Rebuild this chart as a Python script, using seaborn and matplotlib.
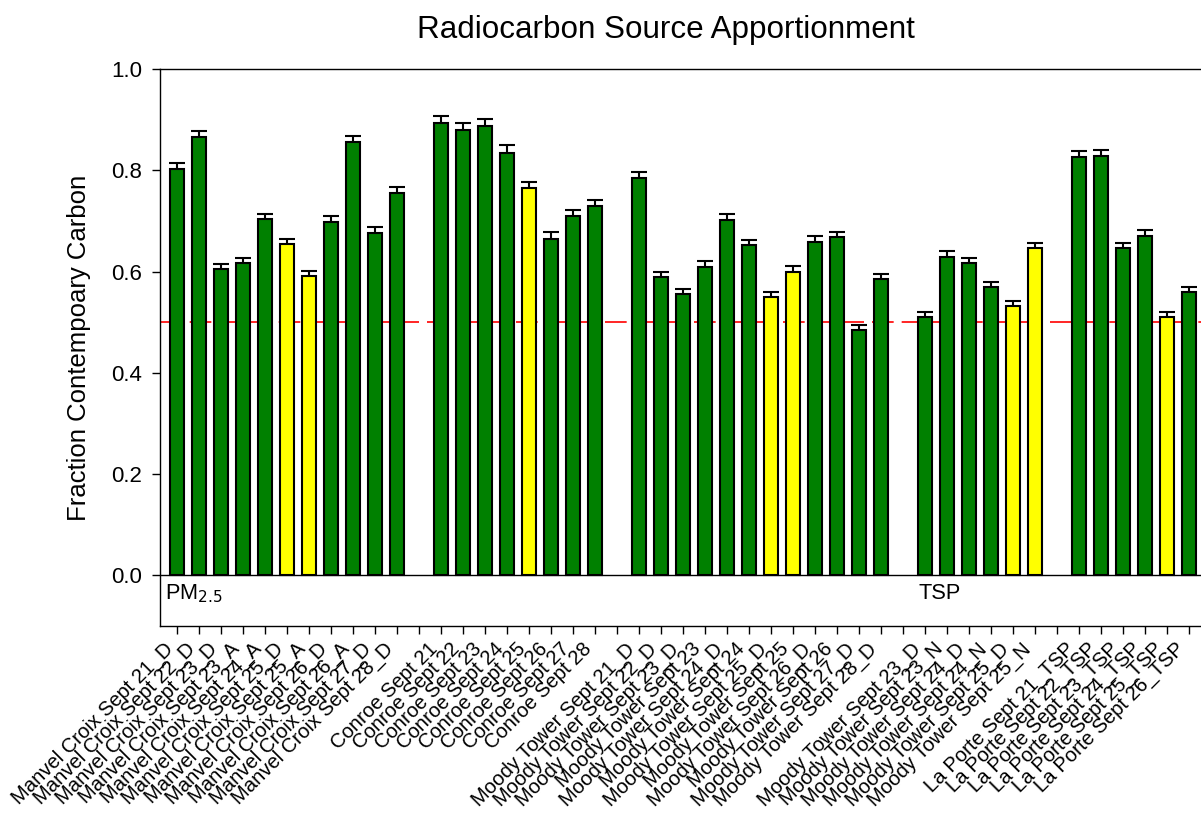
import numpy as np
import pandas as pd
import matplotlib
matplotlib.use('Agg')
import matplotlib.pyplot as plt
import seaborn as sns

# sample groups (a blank slot is left between groups)
manvel = ["Manvel Croix Sept 21_D", "Manvel Croix Sept 22_D", "Manvel Croix Sept 23_D",
          "Manvel Croix Sept 23_A", "Manvel Croix Sept 24_A", "Manvel Croix Sept 25_D",
          "Manvel Croix Sept 25_A", "Manvel Croix Sept 26_D", "Manvel Croix Sept 26_A",
          "Manvel Croix Sept 27_D", "Manvel Croix Sept 28_D"]
manvel_fc = [0.803, 0.865, 0.605, 0.617, 0.703, 0.655, 0.591, 0.697, 0.855, 0.676, 0.755]
manvel_err = [0.011, 0.012, 0.010, 0.010, 0.011, 0.010, 0.010, 0.012, 0.012, 0.011, 0.011]
manvel_hl = [0, 0, 0, 0, 0, 1, 1, 0, 0, 0, 0]

conroe = ["Conroe Sept 21", "Conroe Sept 22", "Conroe Sept 23", "Conroe Sept 24",
          "Conroe Sept 25", "Conroe Sept 26", "Conroe Sept 27", "Conroe Sept 28"]
conroe_fc = [0.893, 0.880, 0.888, 0.835, 0.765, 0.664, 0.709, 0.729]
conroe_err = [0.014, 0.013, 0.014, 0.014, 0.012, 0.015, 0.012, 0.012]
conroe_hl = [0, 0, 0, 0, 1, 0, 0, 0]

moody = ["Moody Tower Sept 21_D", "Moody Tower Sept 22_D", "Moody Tower Sept 23_D",
         "Moody Tower Sept 23", "Moody Tower Sept 24_D", "Moody Tower Sept 24",
         "Moody Tower Sept 25_D", "Moody Tower Sept 25", "Moody Tower Sept 26_D",
         "Moody Tower Sept 26", "Moody Tower Sept 27_D", "Moody Tower Sept 28_D"]
moody_fc = [0.785, 0.589, 0.555, 0.609, 0.702, 0.652, 0.549, 0.599, 0.659, 0.668, 0.485, 0.585]
moody_err = [0.011, 0.010, 0.010, 0.011, 0.011, 0.011, 0.010, 0.011, 0.011, 0.011, 0.010, 0.011]
moody_hl = [0, 0, 0, 0, 0, 0, 1, 1, 0, 0, 0, 0]

moody_dn = ["Moody Tower Sept 23_D", "Moody Tower Sept 23_N", "Moody Tower Sept 24_D",
            "Moody Tower Sept 24_N", "Moody Tower Sept 25_D", "Moody Tower Sept 25_N"]
moody_dn_fc = [0.511, 0.629, 0.616, 0.569, 0.532, 0.646]
moody_dn_err = [0.010, 0.011, 0.011, 0.010, 0.010, 0.011]
moody_dn_hl = [0, 0, 0, 0, 1, 1]

laporte = ["La Porte Sept 21_TSP", "La Porte Sept 22_TSP", "La Porte Sept 23_TSP",
           "La Porte Sept 24_TSP", "La Porte Sept 25_TSP", "La Porte Sept 26_TSP"]
laporte_fc = [0.826, 0.828, 0.646, 0.670, 0.510, 0.559]
laporte_err = [0.011, 0.011, 0.010, 0.011, 0.010, 0.011]
laporte_hl = [0, 0, 0, 0, 1, 0]

groups = [(manvel, manvel_fc, manvel_err, manvel_hl),
          (conroe, conroe_fc, conroe_err, conroe_hl),
          (moody, moody_fc, moody_err, moody_hl),
          (moody_dn, moody_dn_fc, moody_dn_err, moody_dn_hl),
          (laporte, laporte_fc, laporte_err, laporte_hl)]

rows = []
order = []
slot = 0
for g, (names, fc, err, hl) in enumerate(groups):
    if g > 0:
        order.append(" " * g)  # empty slot between groups
        slot += 1
    for n, v, e, h in zip(names, fc, err, hl):
        key = n if n not in order else n + "\u200b"  # Moody 23_D etc. appear twice
        order.append(key)
        rows.append({"sample": key, "slot": slot, "fc": v, "err": e,
                     "hl": "yes" if h else "no"})
        slot += 1
df = pd.DataFrame(rows)

sns.set_style("ticks")
plt.rcParams['font.family'] = ['Liberation Sans', 'DejaVu Sans']
plt.rcParams['text.color'] = 'black'
plt.rcParams['axes.labelcolor'] = 'black'

fig = plt.figure(figsize=(12.01, 8.17), dpi=100)
ax = fig.add_axes([0.1332, 0.2338, 0.875, 0.6818])

ax.axhline(0.5, color='red', lw=1.2, ls=(0, (13, 4.8)), zorder=0.3)
ax.axhline(0.0, color='black', lw=1.0, zorder=0.3)
ax.errorbar(df["slot"], df["fc"], yerr=df["err"], fmt='none', ecolor='black',
            elinewidth=1.5, capsize=6, capthick=1.5, zorder=0.5)
sns.barplot(data=df, x="sample", y="fc", order=order, hue="hl",
            palette={"no": "#008000", "yes": "#ffff00"}, dodge=False, saturation=1,
            width=0.62, edgecolor='black', linewidth=1.5, legend=False, ax=ax)
for p in ax.patches:
    p.set_zorder(1)

ax.set_xlim(-0.773, 47.0)
ax.set_ylim(-0.1, 1.0)
ax.set_yticks([0.0, 0.2, 0.4, 0.6, 0.8, 1.0])
ax.set_yticklabels(["0.0", "0.2", "0.4", "0.6", "0.8", "1.0"])
ax.set_xticks(range(len(order)))
ax.set_xticklabels([o.replace("\u200b", "") for o in order], rotation=45, ha='right',
                   va='top', fontsize=14.6)
ax.tick_params(axis='both', direction='out', length=6, width=1, colors='black')
ax.tick_params(axis='y', labelsize=16, pad=7)
for s in ax.spines.values():
    s.set_linewidth(1.0)
    s.set_color('black')

ax.text(-0.55, -0.036, "PM$_{2.5}$", fontsize=15.7, va='center', ha='left', color='black')
ax.text(33.7, -0.036, "TSP", fontsize=15.7, va='center', ha='left', color='black')

ax.set_xlabel("")
ax.set_ylabel("Fraction Contempoary Carbon", fontsize=18.5, color='black')
ax.yaxis.set_label_coords(-0.066, 0.5)
fig.text(666 / 1201, 1 - 30 / 817, "Radiocarbon Source Apportionment",
         fontsize=22.6, ha='center', va='center', color='black')

fig.savefig("out.png", dpi=100)
